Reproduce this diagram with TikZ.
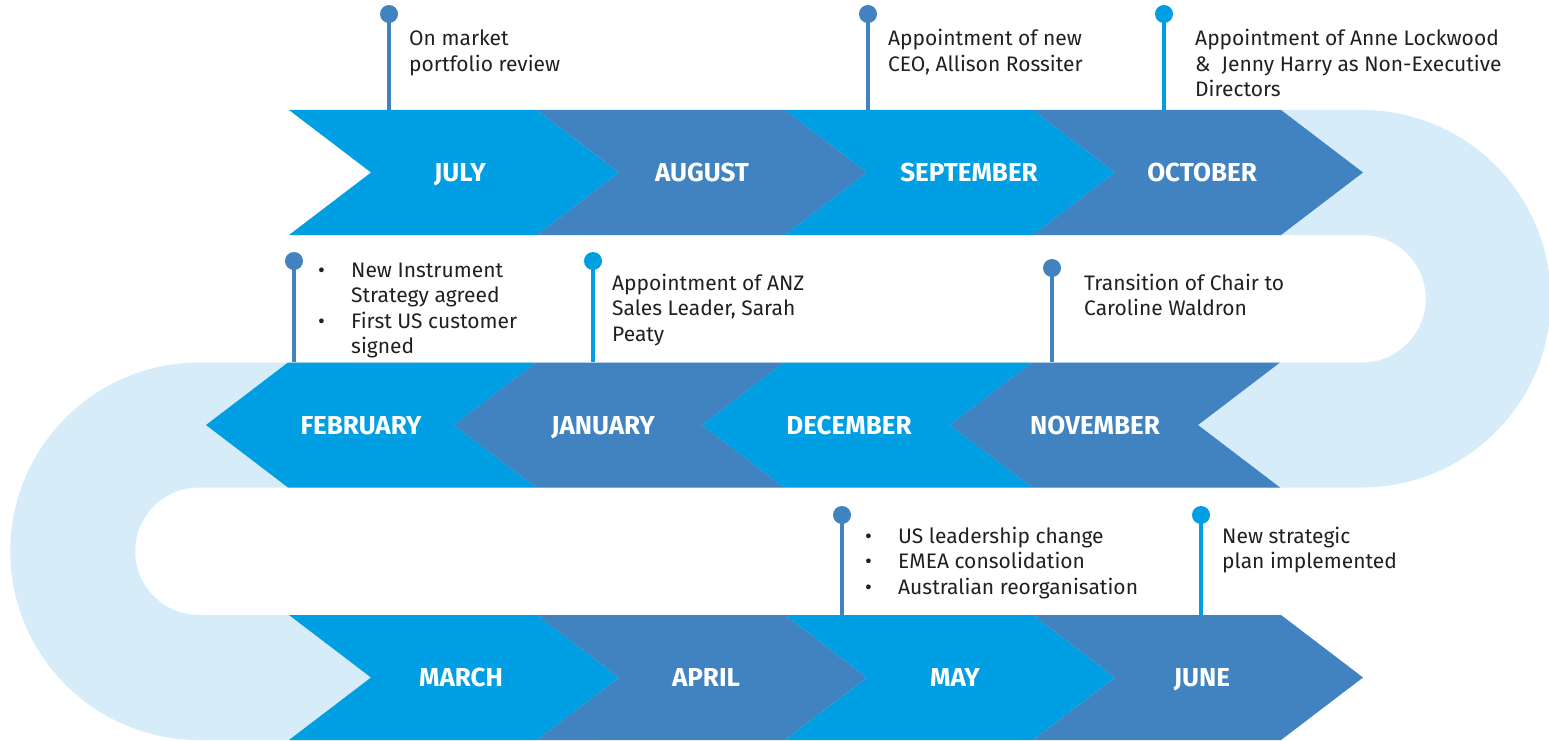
\documentclass[tikz,border=0pt]{standalone}
\usepackage{fontspec}
\setmainfont{Fira Sans}
\usepackage{tikz}

\definecolor{brightblue}{RGB}{0,159,227}
\definecolor{steelblue}{RGB}{65,131,192}
\definecolor{paleblue}{RGB}{214,237,249}
\definecolor{inkgray}{RGB}{35,31,32}

\newcommand\itemdot{\makebox[33pt][l]{\textbullet}}
\newcommand\itemgap{\hspace*{33pt}}

\tikzset{
  month/.style={font=\fontsize{26}{26}\selectfont\bfseries, text=white,
    text height=18pt, text depth=0pt, minimum height=125pt, inner sep=0pt},
  note/.style={font=\fontsize{21}{25.5}\selectfont, text=inkgray,
    align=left, anchor=base west, inner sep=0pt},
  pinhead/.style={circle, fill=#1, minimum size=18pt, inner sep=0pt},
  pinline/.style={draw=#1, line width=3.6pt},
  band/.style={draw=paleblue, line width=125pt},
}

\begin{document}
\begin{tikzpicture}[x=1pt, y=-1pt]
  \useasboundingbox (0,0) rectangle (1549,741);

  % winding band behind the months
  \draw[band] (600,172.5) -- (1362,172.5)
    arc[start angle=-90, end angle=90, radius=126.25] -- (199,425)
    arc[start angle=270, end angle=90, radius=126.25] -- (600,677.5);

  % rows of chevrons
  \foreach \x/\c in {289/brightblue, 537/steelblue, 785/brightblue, 1033/steelblue}{
    \fill[\c] (\x,110) -- ++(248,0) -- ++(82,62.5) -- ++(-82,62.5)
      -- ++(-248,0) -- ++(82,-62.5) -- cycle;
    \fill[\c] (\x,615) -- ++(248,0) -- ++(82,62.5) -- ++(-82,62.5)
      -- ++(-248,0) -- ++(82,-62.5) -- cycle;
  }
  \foreach \x/\c in {536/brightblue, 784/steelblue, 1032/brightblue, 1280/steelblue}{
    \fill[\c] (\x,362.5) -- ++(-248,0) -- ++(-82,62.5) -- ++(82,62.5)
      -- ++(248,0) -- ++(-82,-62.5) -- cycle;
  }

  % month labels
  \node[month] (jul) at (460,172.5) {JULY};
  \node[month] (aug) at (702,172.5) {AUGUST};
  \node[month] (sep) at (969,172.5) {SEPTEMBER};
  \node[month] (oct) at (1202,172.5) {OCTOBER};
  \node[month] (feb) at (361,425) {FEBRUARY};
  \node[month] (jan) at (603,425) {JANUARY};
  \node[month] (dec) at (849,425) {DECEMBER};
  \node[month] (nov) at (1095,425) {NOVEMBER};
  \node[month] (mar) at (461,677.5) {MARCH};
  \node[month] (apr) at (706,677.5) {APRIL};
  \node[month] (may) at (955,677.5) {MAY};
  \node[month] (jun) at (1202,677.5) {JUNE};

  % pins
  \node[pinhead=steelblue] (pjul) at (389,14) {};
  \node[pinhead=steelblue] (psep) at (868,14) {};
  \node[pinhead=brightblue] (poct) at (1164,14) {};
  \node[pinhead=steelblue] (pfeb) at (294,261) {};
  \node[pinhead=brightblue] (pjan) at (593,261) {};
  \node[pinhead=steelblue] (pnov) at (1052,268) {};
  \node[pinhead=steelblue] (pmay) at (842,515) {};
  \node[pinhead=brightblue] (pjun) at (1201,515) {};
  \draw[pinline=steelblue] (pjul.center) -- (pjul |- jul.north);
  \draw[pinline=steelblue] (psep.center) -- (psep |- sep.north);
  \draw[pinline=brightblue] (poct.center) -- (poct |- oct.north);
  \draw[pinline=steelblue] (pfeb.center) -- (pfeb |- feb.north);
  \draw[pinline=brightblue] (pjan.center) -- (pjan |- jan.north);
  \draw[pinline=steelblue] (pnov.center) -- (pnov |- nov.north);
  \draw[pinline=steelblue] (pmay.center) -- (pmay |- may.north);
  \draw[pinline=brightblue] (pjun.center) -- (pjun |- jun.north);

  % notes (anchored on the baseline of their last line)
  \node[note] (tjul) at (409,71.5) {On market\\portfolio review};
  \node[note] (tsep) at (888,71.5) {Appointment of new\\CEO, Allison Rossiter};
  \node[note] (toct) at (1195,97) {Appointment of Anne Lockwood\\\&\ \ Jenny Harry as Non-Executive\\Directors};
  \node[note] (tfeb) at (318,353.5) {\itemdot New Instrument\\\itemgap Strategy agreed\\\itemdot First US customer\\\itemgap signed};
  \node[note] (tjan) at (612,341) {Appointment of ANZ\\Sales Leader, Sarah\\Peaty};
  \node[note] (tnov) at (1084,315.5) {Transition of Chair to\\Caroline Waldron};
  \node[note] (tmay) at (865,594) {\itemdot US leadership change\\\itemdot EMEA consolidation\\\itemdot Australian reorganisation};
  \node[note] (tjun) at (1222,568.5) {New strategic\\plan implemented};
\end{tikzpicture}
\end{document}
